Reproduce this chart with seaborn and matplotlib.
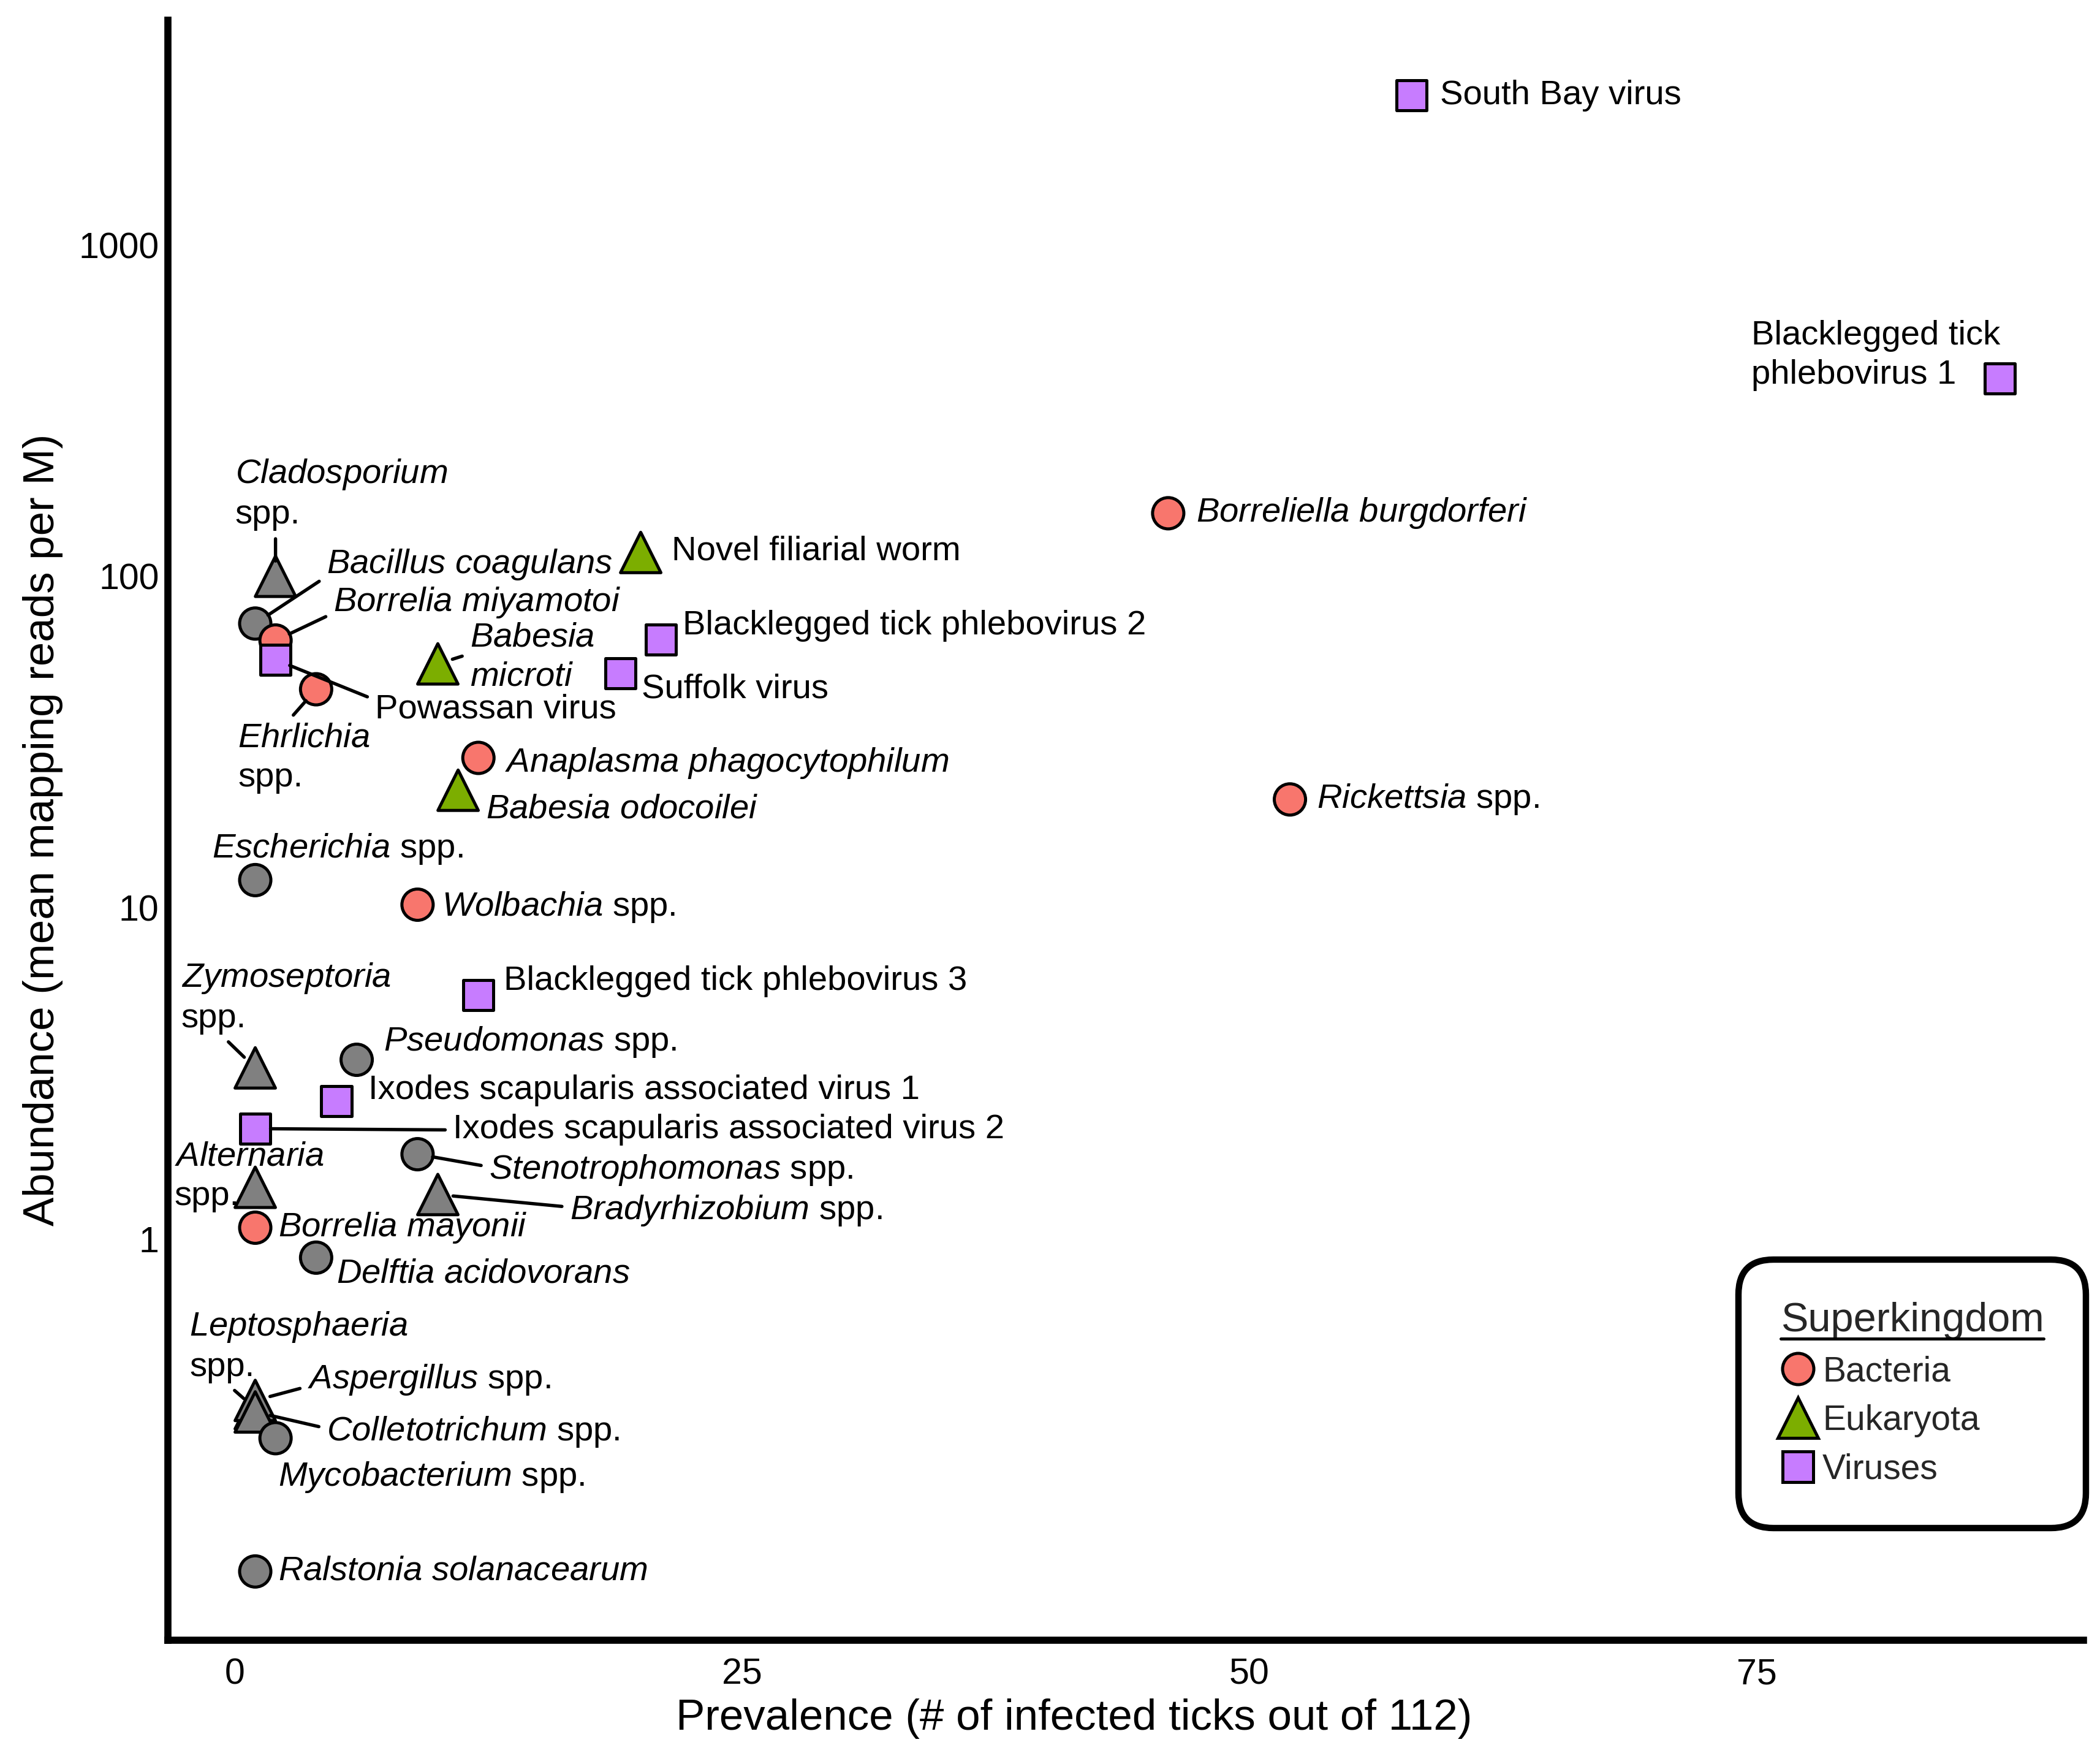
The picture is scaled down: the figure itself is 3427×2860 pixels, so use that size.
import matplotlib
matplotlib.use("Agg")
import matplotlib.pyplot as plt
import seaborn as sns
import pandas as pd
from matplotlib.lines import Line2D
from matplotlib.ticker import FixedLocator, NullLocator

sns.set_theme(style="white")
plt.rcParams['font.family'] = ['Liberation Sans', 'DejaVu Sans']
plt.rcParams['mathtext.fontset'] = 'custom'
plt.rcParams['mathtext.rm'] = 'Liberation Sans'
plt.rcParams['mathtext.it'] = 'Liberation Sans:italic'
plt.rcParams['mathtext.bf'] = 'Liberation Sans:bold'

# --- data ---
taxa = [
    "South Bay virus", "Blacklegged tick phlebovirus 1", "Borreliella burgdorferi",
    "Rickettsia spp.", "Novel filiarial worm", "Blacklegged tick phlebovirus 2",
    "Suffolk virus", "Babesia microti", "Anaplasma phagocytophilum", "Babesia odocoilei",
    "Cladosporium spp.", "Bacillus coagulans", "Borrelia miyamotoi", "Powassan virus",
    "Ehrlichia spp.", "Escherichia spp.", "Wolbachia spp.", "Blacklegged tick phlebovirus 3",
    "Zymoseptoria spp.", "Pseudomonas spp.", "Ixodes scapularis associated virus 1",
    "Ixodes scapularis associated virus 2", "Stenotrophomonas spp.", "Alternaria spp.",
    "Bradyrhizobium spp.", "Borrelia mayonii", "Delftia acidovorans", "Leptosphaeria spp.",
    "Aspergillus spp.", "Colletotrichum spp.", "Mycobacterium spp.", "Ralstonia solanacearum",
]
prevalence = [58, 87, 46, 52, 20, 21, 19, 10, 12, 11,
              2, 1, 2, 2, 4, 1, 9, 12, 1, 6,
              5, 1, 9, 1, 10, 1, 4, 1, 1, 1, 2, 1]
abundance = [2830, 396, 155, 21.2, 118, 64.4, 51, 54.4, 28.3, 22.6,
             100, 72, 64, 56, 45.6, 12.1, 10.2, 5.44, 3.28, 3.47,
             2.6, 2.15, 1.80, 1.43, 1.36, 1.08, 0.877, 0.307, 0.325, 0.30, 0.25, 0.099]
superkingdom = ["Viruses", "Viruses", "Bacteria", "Bacteria", "Eukaryota", "Viruses",
                "Viruses", "Eukaryota", "Bacteria", "Eukaryota",
                "Eukaryota", "Bacteria", "Bacteria", "Viruses", "Bacteria", "Bacteria",
                "Bacteria", "Viruses", "Eukaryota", "Bacteria", "Viruses", "Viruses",
                "Bacteria", "Eukaryota", "Eukaryota", "Bacteria", "Bacteria", "Eukaryota",
                "Eukaryota", "Eukaryota", "Bacteria", "Bacteria"]
# False -> drawn in grey
tick_associated = [True, True, True, True, True, True, True, True, True, True,
                   False, False, True, True, True, False, True, True, False, False,
                   True, True, False, False, False, True, False, False,
                   False, False, False, False]

kingdom_order = ["Bacteria", "Eukaryota", "Viruses"]
palette = {"Bacteria": "#F8766D", "Eukaryota": "#7CAE00", "Viruses": "#C77CFF", "Other": "#808080"}
markers = {"Bacteria": "o", "Eukaryota": "^", "Viruses": "s"}
sizes = {"Bacteria": 150, "Eukaryota": 250, "Viruses": 140}

# label text (mathtext for italics) and placement: dx, dy in points, line start (relpos) or None
labels = {
    "South Bay virus": ("South Bay virus", 11, 0, None),
    "Blacklegged tick phlebovirus 1": ("Blacklegged tick\nphlebovirus 1", -97.5, 9, None),
    "Borreliella burgdorferi": (r"$\mathit{Borreliella\ burgdorferi}$", 11, 0, None),
    "Rickettsia spp.": (r"$\mathit{Rickettsia}$ spp.", 10.5, 0, None),
    "Novel filiarial worm": ("Novel filiarial worm", 12, 0.5, None),
    "Blacklegged tick phlebovirus 2": ("Blacklegged tick phlebovirus 2", 8.4, 5.3, None),
    "Suffolk virus": ("Suffolk virus", 8.4, -6.3, None),
    "Babesia microti": ("$\\mathit{Babesia}$\n$\\mathit{microti}$", 12.6, 2.6, (0, 0.55)),
    "Anaplasma phagocytophilum": (r"$\mathit{Anaplasma\ phagocytophilum}$", 10.5, -2.1, None),
    "Babesia odocoilei": (r"$\mathit{Babesia\ odocoilei}$", 11, -7.4, None),
    "Cladosporium spp.": ("$\\mathit{Cladosporium}$\nspp.", -15.8, 32.2, (0.19, 0)),
    "Bacillus coagulans": (r"$\mathit{Bacillus\ coagulans}$", 28, 23.2, (0, 0.15)),
    "Borrelia miyamotoi": (r"$\mathit{Borrelia\ miyamotoi}$", 22.7, 14.8, (0, 0.2)),
    "Powassan virus": ("Powassan virus", 39, -19.5, (0, 0.8)),
    "Ehrlichia spp.": ("$\\mathit{Ehrlichia}$\nspp.", -30.6, -26.9, (0.37, 1)),
    "Escherichia spp.": (r"$\mathit{Escherichia}$ spp.", -16.9, 12.1, None),
    "Wolbachia spp.": (r"$\mathit{Wolbachia}$ spp.", 9.5, -1, None),
    "Blacklegged tick phlebovirus 3": ("Blacklegged tick phlebovirus 3", 10, 5.3, None),
    "Zymoseptoria spp.": ("$\\mathit{Zymoseptoria}$\nspp.", -29, 27.4, (0.19, 0)),
    "Pseudomonas spp.": (r"$\mathit{Pseudomonas}$ spp.", 10.5, 6.9, None),
    "Ixodes scapularis associated virus 1": ("Ixodes scapularis associated virus 1", 12.6, 4.2, None),
    "Ixodes scapularis associated virus 2": ("Ixodes scapularis associated virus 2", 77.5, -0.5, (0, 0.5)),
    "Stenotrophomonas spp.": (r"$\mathit{Stenotrophomonas}$ spp.", 28, -6.3, (0, 0.6)),
    "Alternaria spp.": ("$\\mathit{Alternaria}$\nspp.", -31.6, 4.2, None),
    "Bradyrhizobium spp.": (r"$\mathit{Bradyrhizobium}$ spp.", 51.7, -6.3, (0, 0.6)),
    "Borrelia mayonii": (r"$\mathit{Borrelia\ mayonii}$", 9, 0, None),
    "Delftia acidovorans": (r"$\mathit{Delftia\ acidovorans}$", 8, -6.3, None),
    "Leptosphaeria spp.": ("$\\mathit{Leptosphaeria}$\nspp.", -25.8, 24.3, (0.17, 0)),
    "Aspergillus spp.": (r"$\mathit{Aspergillus}$ spp.", 20.6, 8.2, (0, 0.3)),
    "Colletotrichum spp.": (r"$\mathit{Colletotrichum}$ spp.", 28, -7.8, (0, 0.6)),
    "Mycobacterium spp.": (r"$\mathit{Mycobacterium}$ spp.", 1, -15.2, None),
    "Ralstonia solanacearum": (r"$\mathit{Ralstonia\ solanacearum}$", 9, 0, None),
}

df = pd.DataFrame({
    "taxon": taxa,
    "prevalence": prevalence,
    "abundance": abundance,
    "superkingdom": superkingdom,
})
df["colour"] = [sk if keep else "Other" for sk, keep in zip(superkingdom, tick_associated)]

fig = plt.figure(figsize=(3427 / 300, 2860 / 300), dpi=300)
ax = fig.add_axes([0.080, 0.0645, 0.912, 0.924])

sns.scatterplot(data=df, x="prevalence", y="abundance", hue="colour", style="superkingdom",
                size="superkingdom", palette=palette, markers=markers, sizes=sizes,
                edgecolor="black", linewidth=1.2, legend=False, ax=ax, zorder=3)

ax.set_yscale("log")
ax.set_xlim(-3.3, 91.1)
ax.set_ylim(0.0615, 4775)
ax.xaxis.set_major_locator(FixedLocator([0, 25, 50, 75]))
ax.yaxis.set_major_locator(FixedLocator([1, 10, 100, 1000]))
ax.yaxis.set_minor_locator(NullLocator())
ax.set_yticklabels(["1", "10", "100", "1000"])
ax.tick_params(axis="both", which="major", direction="out", length=3, width=2.5,
               labelsize=14.2, color="black", labelcolor="black")
ax.tick_params(axis="y", pad=0.5)
ax.tick_params(axis="x", pad=4)

for side in ["top", "right"]:
    ax.spines[side].set_visible(False)
for side in ["left", "bottom"]:
    ax.spines[side].set_linewidth(2.8)
    ax.spines[side].set_color("black")

ax.set_xlabel("Prevalence (# of infected ticks out of 112)", fontsize=17, color="black")
ax.set_ylabel("Abundance (mean mapping reads per M)", fontsize=17, color="black", labelpad=6)
ax.xaxis.set_label_coords(0.473, -0.036)

# point labels
for row in df.itertuples():
    text, dx, dy, relpos = labels[row.taxon]
    arrow = None
    if relpos is not None:
        arrow = dict(arrowstyle="-", color="black", lw=1.3, shrinkA=1, shrinkB=6, relpos=relpos)
    ax.annotate(text, xy=(row.prevalence, row.abundance), xytext=(dx, dy),
                textcoords="offset points", ha="left", va="center", fontsize=13.5,
                color="black", linespacing=1.3, arrowprops=arrow, zorder=4)

# legend
handles = [Line2D([], [], linestyle="", marker=markers[k], markersize=sizes[k] ** 0.5,
                  markerfacecolor=palette[k], markeredgecolor="black", markeredgewidth=1.2)
           for k in kingdom_order]
leg = ax.legend(handles, kingdom_order, title="Superkingdom", loc="lower right",
                bbox_to_anchor=(1.0014, 0.069), borderaxespad=0, fontsize=13.7,
                title_fontsize=16, alignment="left", frameon=True, fancybox=True,
                handlelength=1.0, handletextpad=0.2, labelspacing=0.45, borderpad=1.2)
frame = leg.get_frame()
frame.set_edgecolor("black")
frame.set_linewidth(2.5)
frame.set_facecolor("white")
frame.set_alpha(1)
frame.set_boxstyle("round", pad=0, rounding_size=1.0)

# underline the legend title
fig.canvas.draw()
bb = leg.get_title().get_window_extent(fig.canvas.get_renderer())
inv = fig.transFigure.inverted()
(x0, y0), (x1, _) = inv.transform([(bb.x0, bb.y0 + 2), (bb.x1, bb.y0)])
fig.add_artist(Line2D([x0, x1], [y0, y0], color="black", lw=1.2, transform=fig.transFigure))

fig.savefig("out.png", dpi=300)
